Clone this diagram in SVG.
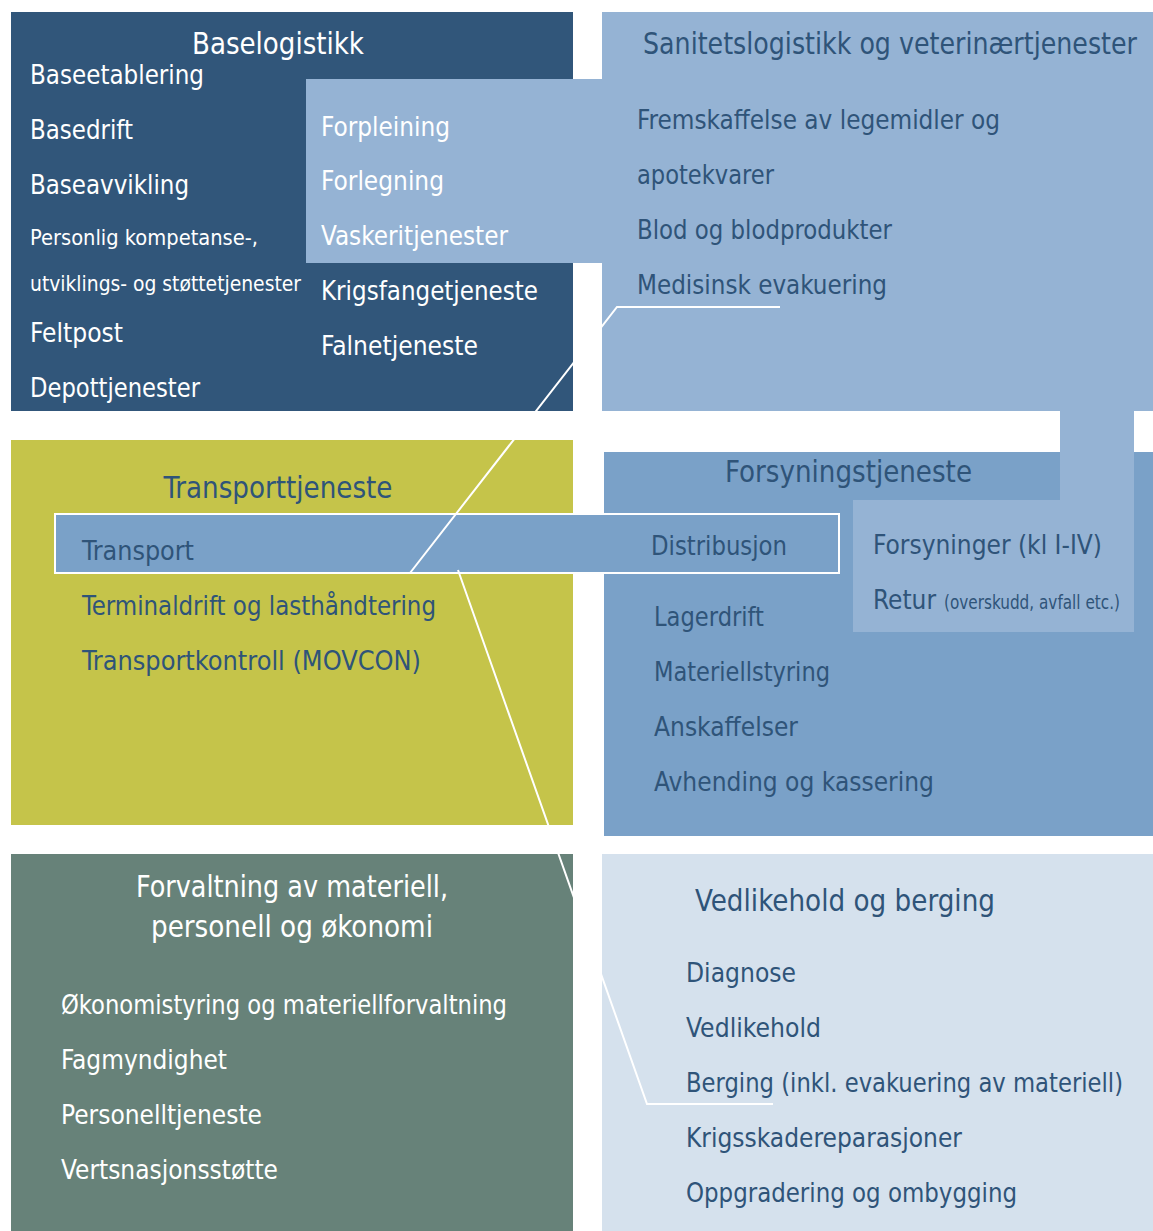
<svg xmlns="http://www.w3.org/2000/svg" width="1153" height="1231" viewBox="0 0 1153 1231">
<style>
text{font-family:"Liberation Sans Narrow","DejaVu Sans Condensed","Liberation Sans",sans-serif;font-size:27px}
.w{fill:#ffffff}
.d{fill:#2f5479}
.t{font-size:30px}
.s{font-size:22px}
.xs{font-size:19px}
.con{fill:none;stroke:#ffffff;stroke-width:2}
</style>
<rect width="1153" height="1231" fill="#ffffff"/>
<g id="baselogistikk">
<rect x="11" y="12" width="562" height="399" fill="#31567a"/>
<text class="w t" x="278" y="54" text-anchor="middle" textLength="172" lengthAdjust="spacingAndGlyphs">Baselogistikk</text>
<text class="w" x="30" y="84" textLength="174" lengthAdjust="spacingAndGlyphs">Baseetablering</text>
<text class="w" x="30" y="139" textLength="103" lengthAdjust="spacingAndGlyphs">Basedrift</text>
<text class="w" x="30" y="194" textLength="159" lengthAdjust="spacingAndGlyphs">Baseavvikling</text>
<text class="w s" x="30" y="245" textLength="228" lengthAdjust="spacingAndGlyphs">Personlig kompetanse-,</text>
<text class="w s" x="30" y="291" textLength="271" lengthAdjust="spacingAndGlyphs">utviklings- og støttetjenester</text>
<text class="w" x="30" y="342" textLength="93" lengthAdjust="spacingAndGlyphs">Feltpost</text>
<text class="w" x="30" y="397" textLength="170" lengthAdjust="spacingAndGlyphs">Depottjenester</text>
</g>
<g id="sanitet">
<rect x="602" y="12" width="551" height="399" fill="#95b3d4"/>
<rect x="306" y="79" width="300" height="184" fill="#95b3d4"/>
<rect x="1060" y="405" width="74" height="100" fill="#95b3d4"/>
<text class="d t" x="643" y="54" textLength="494" lengthAdjust="spacingAndGlyphs">Sanitetslogistikk og veterinærtjenester</text>
<text class="d" x="637" y="129" textLength="363" lengthAdjust="spacingAndGlyphs">Fremskaffelse av legemidler og</text>
<text class="d" x="637" y="184" textLength="137" lengthAdjust="spacingAndGlyphs">apotekvarer</text>
<text class="d" x="637" y="239" textLength="255" lengthAdjust="spacingAndGlyphs">Blod og blodprodukter</text>
<text class="d" x="637" y="294" textLength="250" lengthAdjust="spacingAndGlyphs">Medisinsk evakuering</text>
<text class="w" x="321" y="136" textLength="129" lengthAdjust="spacingAndGlyphs">Forpleining</text>
<text class="w" x="321" y="190" textLength="123" lengthAdjust="spacingAndGlyphs">Forlegning</text>
<text class="w" x="321" y="245" textLength="187" lengthAdjust="spacingAndGlyphs">Vaskeritjenester</text>
<text class="w" x="321" y="300" textLength="217" lengthAdjust="spacingAndGlyphs">Krigsfangetjeneste</text>
<text class="w" x="321" y="355" textLength="157" lengthAdjust="spacingAndGlyphs">Falnetjeneste</text>
</g>
<g id="transporttjeneste">
<rect x="11" y="440" width="562" height="385" fill="#c5c44a"/>
<text class="d t" x="278" y="498" text-anchor="middle" textLength="229" lengthAdjust="spacingAndGlyphs">Transporttjeneste</text>
<text class="d" x="82" y="615" textLength="354" lengthAdjust="spacingAndGlyphs">Terminaldrift og lasthåndtering</text>
<text class="d" x="82" y="670" textLength="339" lengthAdjust="spacingAndGlyphs">Transportkontroll (MOVCON)</text>
</g>
<g id="forsyningstjeneste">
<rect x="604" y="452" width="549" height="384" fill="#7aa1c8"/>
<rect x="1060" y="452" width="74" height="50" fill="#95b3d4"/>
<rect x="853" y="500" width="281" height="132" fill="#95b3d4"/>
<text class="d t" x="725" y="482" textLength="247" lengthAdjust="spacingAndGlyphs">Forsyningstjeneste</text>
<text class="d" x="873" y="554" textLength="229" lengthAdjust="spacingAndGlyphs">Forsyninger (kl I-IV)</text>
<text class="d" x="873" y="609" textLength="63" lengthAdjust="spacingAndGlyphs">Retur</text>
<text class="d xs" x="944" y="609" textLength="176" lengthAdjust="spacingAndGlyphs">(overskudd, avfall etc.)</text>
<text class="d" x="654" y="626" textLength="110" lengthAdjust="spacingAndGlyphs">Lagerdrift</text>
<text class="d" x="654" y="681" textLength="176" lengthAdjust="spacingAndGlyphs">Materiellstyring</text>
<text class="d" x="654" y="736" textLength="144" lengthAdjust="spacingAndGlyphs">Anskaffelser</text>
<text class="d" x="654" y="791" textLength="280" lengthAdjust="spacingAndGlyphs">Avhending og kassering</text>
</g>
<g id="distribusjon">
<rect x="55" y="514" width="784" height="59" fill="#7aa1c8" stroke="#ffffff" stroke-width="2"/>
<text class="d" x="82" y="560" textLength="112" lengthAdjust="spacingAndGlyphs">Transport</text>
<text class="d" x="651" y="555" textLength="136" lengthAdjust="spacingAndGlyphs">Distribusjon</text>
</g>
<g id="forvaltning">
<rect x="11" y="854" width="562" height="377" fill="#678279"/>
<text class="w t" x="292" y="897" text-anchor="middle" textLength="312" lengthAdjust="spacingAndGlyphs">Forvaltning av materiell,</text>
<text class="w t" x="292" y="937" text-anchor="middle" textLength="282" lengthAdjust="spacingAndGlyphs">personell og økonomi</text>
<text class="w" x="61" y="1014" textLength="446" lengthAdjust="spacingAndGlyphs">Økonomistyring og materiellforvaltning</text>
<text class="w" x="61" y="1069" textLength="166" lengthAdjust="spacingAndGlyphs">Fagmyndighet</text>
<text class="w" x="61" y="1124" textLength="201" lengthAdjust="spacingAndGlyphs">Personelltjeneste</text>
<text class="w" x="61" y="1179" textLength="217" lengthAdjust="spacingAndGlyphs">Vertsnasjonsstøtte</text>
</g>
<g id="vedlikehold">
<rect x="602" y="854" width="551" height="377" fill="#d5e1ed"/>
<text class="d t" x="695" y="911" textLength="300" lengthAdjust="spacingAndGlyphs">Vedlikehold og berging</text>
<text class="d" x="686" y="982" textLength="110" lengthAdjust="spacingAndGlyphs">Diagnose</text>
<text class="d" x="686" y="1037" textLength="135" lengthAdjust="spacingAndGlyphs">Vedlikehold</text>
<text class="d" x="686" y="1092" textLength="437" lengthAdjust="spacingAndGlyphs">Berging (inkl. evakuering av materiell)</text>
<text class="d" x="686" y="1147" textLength="276" lengthAdjust="spacingAndGlyphs">Krigsskadereparasjoner</text>
<text class="d" x="686" y="1202" textLength="331" lengthAdjust="spacingAndGlyphs">Oppgradering og ombygging</text>
</g>
<g id="connectors">
<polyline class="con" points="780,307 617,307 410,573"/>
<polyline class="con" points="458,570 647,1104 773,1104"/>
</g>
</svg>
